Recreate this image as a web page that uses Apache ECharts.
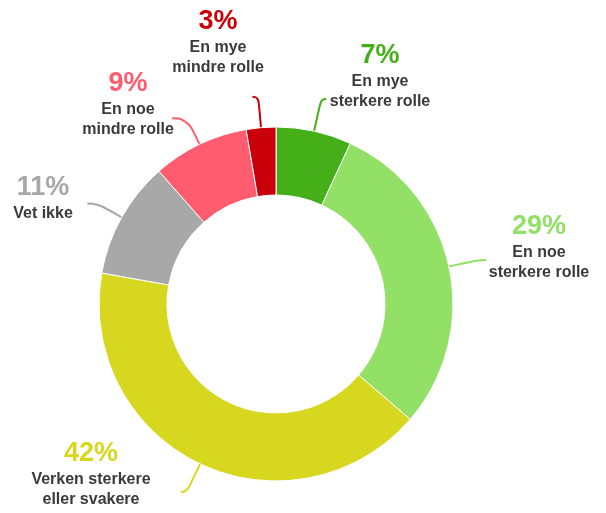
<!DOCTYPE html>
<html>
<head>
<meta charset="utf-8">
<title>Rolle</title>
<script src="https://cdn.jsdelivr.net/npm/echarts@6/dist/echarts.min.js"></script>
<style>
  html, body { margin: 0; padding: 0; background: #fff; }
  #chart { width: 606px; height: 513px; }
</style>
</head>
<body>
<div id="chart"></div>
<script>
// svarkategorier (linjeskift som i figuren)
var categories = [
    'En mye\nsterkere rolle',
    'En noe\nsterkere rolle',
    'Verken sterkere\neller svakere',
    'Vet ikke',
    'En noe\nmindre rolle',
    'En mye\nmindre rolle'
];
// andel i prosent (lest av sektorene, etiketten viser avrundet verdi)
var values = [6.9, 29.4, 41.5, 10.7, 8.8, 2.7];

var colors = ['#45af1a', '#92e066', '#d8d720', '#a8a8a8', '#ff5c6f', '#c9000a'];

// plassering av etikettene (midt x, topp y) og lengde på etikettlinjene
var labelPos = [[380, 40], [539, 211], [91, 438], [43, 172], [128, 68], [218, 6]];
var lineLen = [[33, 5], [30, 8], [31, 6], [28, 10], [29, 15], [31, 6]];

var myChart = echarts.init(document.getElementById('chart'));

var data = [];
for (var i = 0; i < values.length; i++) {
    data.push({
        name: categories[i],
        value: values[i],
        itemStyle: { color: colors[i] },
        label: { color: colors[i] },
        labelLine: {
            length: lineLen[i][0],
            length2: lineLen[i][1],
            lineStyle: { color: colors[i] }
        }
    });
}

var option = {
    animation: false,
    series: [{
        type: 'pie',
        center: [276, 304],
        radius: [109, 177],
        startAngle: 90,
        clockwise: true,
        avoidLabelOverlap: false,
        emphasis: { scale: false },
        itemStyle: { borderColor: '#fff', borderWidth: 1 },
        label: {
            show: true,
            position: 'outside',
            fontFamily: 'Liberation Sans, Arial, sans-serif',
            formatter: function (p) {
                return '{p|' + Math.round(p.value) + '%}\n{t|' + p.name.split('\n').join('}\n{t|') + '}';
            },
            rich: {
                p: { fontSize: 27, fontWeight: 'bold', lineHeight: 32, fontFamily: 'Liberation Sans, Arial, sans-serif' },
                t: { fontSize: 16, fontWeight: 'bold', lineHeight: 20, color: '#3a3a3a', fontFamily: 'Liberation Sans, Arial, sans-serif' }
            }
        },
        labelLine: {
            show: true,
            smooth: 0.5,
            lineStyle: { width: 2 }
        },
        labelLayout: function (params) {
            var pos = labelPos[params.dataIndex];
            return {
                x: pos[0],
                y: pos[1],
                align: 'center',
                verticalAlign: 'top',
                labelLinePoints: params.labelLinePoints
            };
        },
        data: data
    }]
};

myChart.setOption(option);
window.addEventListener('resize', function () {
    myChart.resize();
});
</script>
</body>
</html>
